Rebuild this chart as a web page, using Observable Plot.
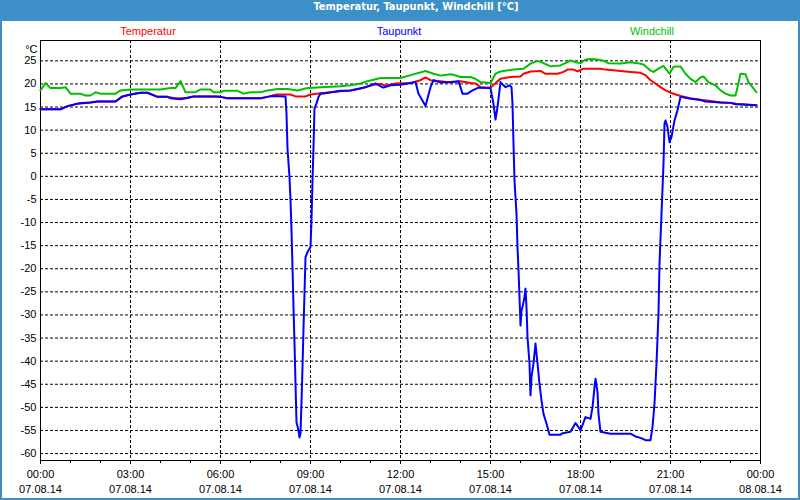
<!DOCTYPE html>
<html>
<head>
<meta charset="utf-8">
<script src="https://cdn.jsdelivr.net/npm/d3@7"></script>
<script src="https://cdn.jsdelivr.net/npm/@observablehq/plot@0.6"></script>
<style>
  html, body { margin: 0; padding: 0; background: #ffffff; }
  #frame { position: relative; width: 800px; height: 500px; background: #3c8fc7; overflow: hidden; }
  #title { position: absolute; left: 0; top: 0; width: 832px; height: 21px; line-height: 21px; text-align: center;
           color: #ffffff; font: bold 11px "DejaVu Sans Condensed", "DejaVu Sans", sans-serif; }
  #panel { position: absolute; left: 2px; top: 21px; width: 796px; height: 477px; background: #ffffff; }
  .leg { position: absolute; top: 25px; font: 11px "Liberation Sans", sans-serif; transform: translateX(-50%); white-space: nowrap; }
  #chart { position: absolute; left: 0; top: 21px; }
</style>
</head>
<body>
<div id="frame">
  <div id="title">Temperatur, Taupunkt, Windchill [°C]</div>
  <div id="panel"></div>
  <span class="leg" style="left:148px;color:#ff0000">Temperatur</span>
  <span class="leg" style="left:399px;color:#0000ff">Taupunkt</span>
  <span class="leg" style="left:652px;color:#00c000">Windchill</span>
  <div id="chart"></div>
</div>
<script>
// Minutes after 00:00 on 07.08.14
const tempTimes = [0,40,54,80,100,114,150,164,180,200,214,234,254,270,290,306,346,360,374,440,454,472,500,510,530,540,560,600,620,640,670,680,690,710,740,760,770,780,800,820,840,860,870,880,900,914,920,940,960,966,980,1000,1010,1034,1046,1054,1066,1074,1086,1120,1130,1160,1180,1200,1210,1220,1230,1240,1250,1260,1280,1300,1320,1340,1360,1380,1392,1432];
const tempValues = [14.5,14.5,15.2,15.9,16.0,16.2,16.2,17.3,17.7,18.1,18.1,17.2,17.2,16.9,16.9,17.3,17.3,17.2,16.9,16.9,17.2,17.7,17.7,17.3,17.3,17.7,18.0,18.4,18.6,19.0,19.9,20.0,19.6,20.1,20.2,20.8,21.4,20.8,20.6,20.3,20.6,20.2,20.1,19.3,19.2,20.6,21.1,21.5,21.6,22.2,22.7,22.8,22.2,22.2,22.6,23.1,23.1,22.7,23.3,23.3,23.1,22.8,22.6,22.4,21.9,20.8,20.1,19.3,18.6,18.1,17.4,16.9,16.6,16.3,16.0,15.9,15.7,15.4];

const dewTimes = [0,40,54,74,100,114,150,164,180,200,214,234,254,260,280,306,346,360,374,440,454,464,490,492,494,498,500,502,504,506,508,510,512,516,518,520,522,524,526,528,530,534,540,542,544,546,548,552,556,560,570,600,620,650,670,680,686,700,720,740,750,756,770,780,786,800,820,836,844,854,864,876,900,906,910,914,920,926,930,938,942,944,946,948,952,954,956,958,960,962,964,968,970,972,974,978,980,982,986,990,994,998,1002,1006,1012,1018,1040,1044,1060,1070,1076,1080,1090,1100,1104,1108,1110,1114,1116,1120,1140,1180,1190,1200,1210,1220,1224,1228,1232,1236,1238,1242,1246,1248,1250,1254,1258,1262,1268,1274,1280,1300,1320,1330,1360,1380,1390,1432];
const dewValues = [14.5,14.5,15.2,15.7,16.0,16.2,16.2,17.3,17.7,18.1,18.1,17.2,17.2,16.9,16.7,17.3,17.3,17.2,16.9,16.9,17.2,17.4,17.3,13.6,6.0,-0.2,-5.2,-11.7,-19.7,-28.3,-36.1,-44.8,-53.2,-55.0,-56.5,-55.6,-48.9,-41.3,-32.9,-25.3,-17.5,-16.4,-15.3,-9.5,-0.9,6.3,14.7,15.8,17.2,17.9,18.0,18.5,18.6,19.3,20.1,19.5,19.2,19.7,19.8,20.2,20.4,17.9,15.2,19.3,20.8,20.3,20.4,20.6,17.9,17.9,18.6,19.2,19.1,15.7,12.3,15.0,20.4,19.7,19.3,19.7,19.3,15.7,7.1,-0.9,-8.1,-15.3,-20.3,-26.1,-32.3,-29.0,-28.3,-26.1,-24.3,-28.3,-34.8,-40.5,-47.4,-43.4,-40.5,-36.2,-40.5,-44.9,-48.5,-51.4,-53.5,-55.9,-55.9,-55.6,-55.3,-53.4,-54.3,-55.0,-52.1,-52.5,-50.0,-45.6,-43.8,-46.7,-51.4,-55.3,-55.7,-55.7,-56.3,-56.6,-57.1,-57.1,-54.3,-49.2,-40.5,-29.7,-18.9,-8.1,2.7,11.4,12.1,10.7,7.4,8.5,12.1,14.3,17.2,16.8,16.5,16.2,16.0,15.9,15.6,15.4];

const chillTimes = [0,10,20,40,50,60,80,90,100,110,120,150,160,180,240,260,270,280,290,310,320,340,346,360,366,394,406,420,440,454,474,494,514,534,600,620,640,654,680,720,740,770,786,800,820,826,840,860,870,880,900,910,920,946,966,980,994,1006,1020,1040,1054,1060,1070,1080,1090,1100,1114,1126,1136,1160,1180,1194,1206,1220,1226,1236,1246,1258,1266,1280,1290,1300,1310,1320,1326,1336,1350,1360,1370,1380,1390,1394,1400,1410,1416,1424,1432];
const chillValues = [18.6,20.2,19.1,19.1,19.3,17.9,17.9,17.5,17.5,18.2,17.9,17.9,18.6,18.8,18.8,19.1,19.1,20.6,18.2,18.2,18.8,18.8,18.2,18.2,18.5,18.5,17.9,18.2,18.2,18.6,18.9,18.9,18.6,19.1,19.5,19.7,20.1,20.6,21.3,21.3,21.9,22.8,22.2,21.8,22.1,22.0,21.5,21.5,21.1,20.4,20.2,22.2,22.7,23.1,23.3,24.4,25.0,24.5,23.8,24.0,24.7,25.1,24.7,24.5,25.3,25.4,25.3,25.0,24.5,24.4,24.7,24.5,24.2,22.9,22.6,23.3,23.9,22.2,23.7,23.8,22.2,21.1,20.4,21.4,21.6,20.4,19.7,18.6,17.9,17.5,17.5,19.3,22.2,22.1,20.4,19.3,18.2];

const yTicks = [-60,-55,-50,-45,-40,-35,-30,-25,-20,-15,-10,-5,0,5,10,15,20,25];
const xMajorTicks = [0,180,360,540,720,900,1080,1260,1440];
const xTickTimes = ["00:00","03:00","06:00","09:00","12:00","15:00","18:00","21:00","00:00"];
const xTickDates = ["07.08.14","07.08.14","07.08.14","07.08.14","07.08.14","07.08.14","07.08.14","07.08.14","08.08.14"];
const xHourTicks = d3.range(0, 1441, 60);

const zip = (t, v, s) => t.map((m, i) => ({minute: m, value: v[i], series: s}));
const temp = zip(tempTimes, tempValues, "Temperatur");
const dew = zip(dewTimes, dewValues, "Taupunkt");
const chill = zip(chillTimes, chillValues, "Windchill");

const chart = Plot.plot({
  width: 800,
  height: 477,
  marginLeft: 40,
  marginRight: 40,
  marginTop: 19,
  marginBottom: 38,
  style: {background: "transparent", fontFamily: "'Liberation Sans', sans-serif", fontSize: "11px", color: "#000", overflow: "visible"},
  x: {type: "linear", domain: [0, 1440]},
  y: {domain: [-61.5, 29.4]},
  marks: [
    Plot.ruleY(yTicks, {stroke: "#000", strokeDasharray: "3,2", strokeWidth: 1}),
    Plot.ruleX(xMajorTicks.slice(1, -1), {stroke: "#000", strokeDasharray: "3,2", strokeWidth: 1}),
    Plot.frame({stroke: "#000", strokeWidth: 1}),
    Plot.line(temp, {x: "minute", y: "value", stroke: "#ff0000", strokeWidth: 2}),
    Plot.line(chill, {x: "minute", y: "value", stroke: "#00c000", strokeWidth: 2}),
    Plot.line(dew, {x: "minute", y: "value", stroke: "#0000ff", strokeWidth: 2}),
    Plot.axisY(yTicks, {tickSize: 0, tickPadding: 4, tickFormat: d => String(d), label: null}),
    Plot.axisX(xHourTicks, {tickSize: 3, tickFormat: () => "", label: null}),
    Plot.axisX(xMajorTicks, {tickSize: 4, tickPadding: 6, tickFormat: (d, i) => xTickTimes[i], label: null}),
    Plot.axisX(xMajorTicks, {tickSize: 0, tickPadding: 25, tickFormat: (d, i) => xTickDates[i], label: null}),
    Plot.text(["°C"], {frameAnchor: "top-left", dx: -3, dy: 5, textAnchor: "end", text: d => d, fill: "#000"})
  ]
});
document.getElementById("chart").appendChild(chart);
</script>
</body>
</html>
